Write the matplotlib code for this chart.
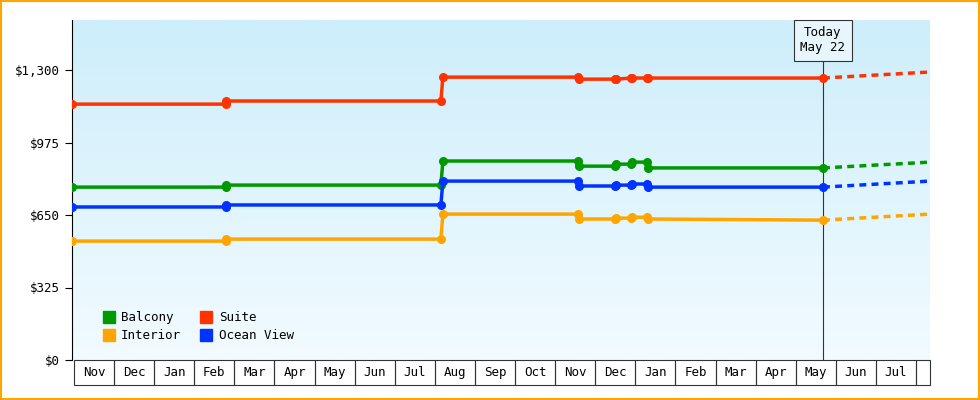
import numpy as np
import matplotlib.pyplot as plt
import matplotlib.transforms as mtransforms
from matplotlib.patches import Rectangle

plt.rcParams['font.family'] = ['DejaVu Sans Mono']

# x positions in months since Nov 1 (first season)
months = ['Nov', 'Dec', 'Jan', 'Feb', 'Mar', 'Apr', 'May', 'Jun', 'Jul', 'Aug', 'Sep',
          'Oct', 'Nov', 'Dec', 'Jan', 'Feb', 'Mar', 'Apr', 'May', 'Jun', 'Jul']
x_pts = [-0.05, 3.8, 3.8, 9.15, 9.2, 12.57, 12.6, 13.5, 13.52, 13.9, 13.92, 14.3, 14.32, 18.68]
suite = [1147, 1147, 1161, 1161, 1268, 1268, 1259, 1259, 1259, 1264, 1264, 1264, 1264, 1264]
balcony = [775, 775, 784, 784, 892, 892, 869, 869, 878, 878, 887, 887, 861, 861]
ocean = [686, 686, 695, 695, 802, 802, 780, 780, 784, 784, 789, 789, 775, 775]
interior = [533, 533, 542, 542, 654, 654, 632, 632, 636, 636, 640, 640, 632, 627]
x_fc = [18.68, 21.35]
fc_suite = [1264, 1291]
fc_balcony = [861, 887]
fc_ocean = [775, 802]
fc_interior = [627, 654]
today_x = 18.68

series = [('Balcony', balcony, fc_balcony, '#009900'),
          ('Interior', interior, fc_interior, '#ffa500'),
          ('Suite', suite, fc_suite, '#ff3300'),
          ('Ocean View', ocean, fc_ocean, '#0033ff')]

fig = plt.figure(figsize=(9.8, 4.0), dpi=100)
fig.patch.set_facecolor('white')
fig.add_artist(Rectangle((0.001, 0.002), 0.998, 0.996, transform=fig.transFigure,
                         fill=False, edgecolor='#ffa500', linewidth=1.5))
ax = fig.add_axes([0.0735, 0.1, 0.8755, 0.85])
xmin, xmax = -0.05, 21.35
ymax = 1300 * 340 / 290
ax.set_xlim(xmin, xmax)
ax.set_ylim(0, ymax)

grad = np.linspace(0, 1, 256).reshape(-1, 1)
ax.imshow(grad, extent=[xmin, xmax, 0, ymax], aspect='auto', origin='upper',
          cmap=plt.matplotlib.colors.LinearSegmentedColormap.from_list('g', ['#cdeefb', '#f2fbff']),
          zorder=0)

for name, vals, fc, col in series:
    ax.plot(x_pts, vals, color=col, lw=2.5, marker='o', ms=5.5, zorder=3, label=name)
    ax.plot(x_fc, fc, color=col, lw=2.5, ls=(0, (2, 1.5)), zorder=3)

ax.axvline(today_x, color='#333333', lw=0.8, zorder=2)
ax.text(today_x, 1433, 'Today\nMay 22', ha='center', va='center', fontsize=9,
        bbox=dict(boxstyle='square,pad=0.5', fc='#e6f6fc', ec='#333333', lw=0.8),
        zorder=5, clip_on=False)

for s in ['top', 'right', 'bottom']:
    ax.spines[s].set_visible(False)
ax.spines['left'].set_color('black')
ax.set_yticks([0, 325, 650, 975, 1300])
ax.set_yticklabels(['$0', '$325', '$650', '$975', '$1,300'], fontsize=9)
ax.tick_params(axis='y', length=5)
ax.set_xticks([])

trans = mtransforms.blended_transform_factory(ax.transData, ax.transAxes)
h = 25 / 340
for i, m in enumerate(months):
    ax.add_patch(Rectangle((i, -h), 1, h, transform=trans, fill=False, ec='#333333',
                           lw=0.8, clip_on=False))
    ax.text(i + 0.5, -h / 2, m, transform=trans, ha='center', va='center', fontsize=9)
ax.add_patch(Rectangle((len(months), -h), xmax - len(months), h, transform=trans,
                       fill=False, ec='#333333', lw=0.8, clip_on=False))

handles = [plt.Line2D([], [], ls='', marker='s', ms=8, color=c) for _, _, _, c in series]
ax.legend(handles, [s[0] for s in series], ncol=2, loc='lower left', frameon=False,
          fontsize=9, handletextpad=0.0, columnspacing=1.0, labelspacing=0.4,
          bbox_to_anchor=(0.015, 0.02))

fig.savefig('out.png', dpi=100)
